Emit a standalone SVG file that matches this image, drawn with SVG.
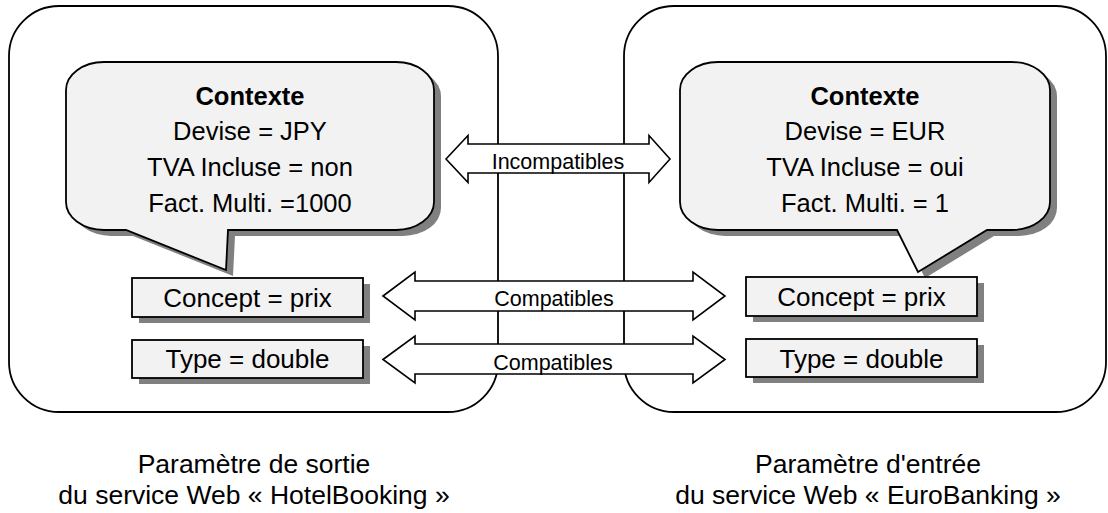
<svg xmlns="http://www.w3.org/2000/svg" width="1108" height="513" viewBox="0 0 1108 513">
  <defs>
    <style>
      text { font-family: "Liberation Sans", Arial, sans-serif; fill: #000; text-anchor: middle; }
      .container { fill: none; stroke: #000; stroke-width: 1.8; }
      .bubble { fill: #f2f2f2; stroke: #000; stroke-width: 1.8; stroke-linejoin: miter; }
      .shadow { fill: #808080; stroke: none; }
      .box { fill: #f2f2f2; stroke: #000; stroke-width: 1.8; }
      .arrow { fill: #fff; stroke: #000; stroke-width: 1.6; stroke-linejoin: miter; }
      .ctx { font-size: 25.5px; }
      .ctx-title { font-size: 25.5px; font-weight: bold; }
      .field { font-size: 26px; }
      .rel { font-size: 21.5px; }
      .caption { font-size: 26.5px; }
    </style>
    <path id="bubbleL" d="M 104,62 H 396 A 38 28 0 0 1 434 90 V 202 A 38 28 0 0 1 396 230 H 228 L 226 270 L 126 230 H 104 A 38 28 0 0 1 66 202 V 90 A 38 28 0 0 1 104 62 Z"/>
    <path id="bubbleR" d="M 718,62 H 1012 A 38 28 0 0 1 1050 90 V 202 A 38 28 0 0 1 1012 230 H 987 L 918 272 L 897 230 H 718 A 38 28 0 0 1 680 202 V 90 A 38 28 0 0 1 718 62 Z"/>
  </defs>

  <rect width="1108" height="513" fill="#fff"/>

  <!-- service parameter frames -->
  <g id="frame-output">
    <rect class="container" x="9" y="6" width="489" height="406" rx="50" ry="50"/>
    <text class="caption" x="254" y="473">Paramètre de sortie</text>
    <text class="caption" x="254" y="504">du service Web « HotelBooking »</text>
  </g>
  <g id="frame-input">
    <rect class="container" x="624" y="6" width="482" height="406" rx="50" ry="50"/>
    <text class="caption" x="868" y="473">Paramètre d'entrée</text>
    <text class="caption" x="868" y="504">du service Web « EuroBanking »</text>
  </g>

  <!-- context callouts -->
  <g id="context-jpy">
    <use href="#bubbleL" class="shadow" transform="translate(7,6)"/>
    <use href="#bubbleL" class="bubble"/>
    <text class="ctx-title" x="250" y="105">Contexte</text>
    <text class="ctx" x="250" y="140">Devise = JPY</text>
    <text class="ctx" x="250" y="176">TVA Incluse = non</text>
    <text class="ctx" x="250" y="212">Fact. Multi. =1000</text>
  </g>
  <g id="context-eur">
    <use href="#bubbleR" class="shadow" transform="translate(7,6)"/>
    <use href="#bubbleR" class="bubble"/>
    <text class="ctx-title" x="865" y="105">Contexte</text>
    <text class="ctx" x="865" y="140">Devise = EUR</text>
    <text class="ctx" x="865" y="176">TVA Incluse = oui</text>
    <text class="ctx" x="865" y="212">Fact. Multi. = 1</text>
  </g>

  <!-- parameter fields -->
  <g id="concept-out">
    <rect class="shadow" x="139" y="284" width="231" height="39"/>
    <rect class="box" x="132" y="278" width="231" height="39"/>
    <text class="field" x="247.5" y="306.5">Concept = prix</text>
  </g>
  <g id="type-out">
    <rect class="shadow" x="139" y="346" width="231" height="38"/>
    <rect class="box" x="132" y="340" width="231" height="38"/>
    <text class="field" x="247.5" y="368">Type = double</text>
  </g>
  <g id="concept-in">
    <rect class="shadow" x="753" y="283" width="231" height="39"/>
    <rect class="box" x="746" y="277" width="231" height="39"/>
    <text class="field" x="861.5" y="306">Concept = prix</text>
  </g>
  <g id="type-in">
    <rect class="shadow" x="753" y="345" width="231" height="38"/>
    <rect class="box" x="746" y="339" width="231" height="38"/>
    <text class="field" x="861.5" y="367.5">Type = double</text>
  </g>

  <!-- double-headed relation arrows -->
  <g id="connectors">
    <polygon class="arrow" points="446,159 468,135.5 468,144 649,144 649,135.5 670,159 649,182.5 649,173 468,173 468,182.5"/>
    <text class="rel" x="558" y="168.5">Incompatibles</text>
    <polygon class="arrow" points="383,296 415,272 415,281 693,281 693,272 725,296 693,320 693,311 415,311 415,320"/>
    <text class="rel" x="554" y="305.5">Compatibles</text>
    <polygon class="arrow" points="383,359.5 415,336 415,344 693,344 693,336 725,359.5 693,383 693,374 415,374 415,383"/>
    <text class="rel" x="553" y="370">Compatibles</text>
  </g>
</svg>
